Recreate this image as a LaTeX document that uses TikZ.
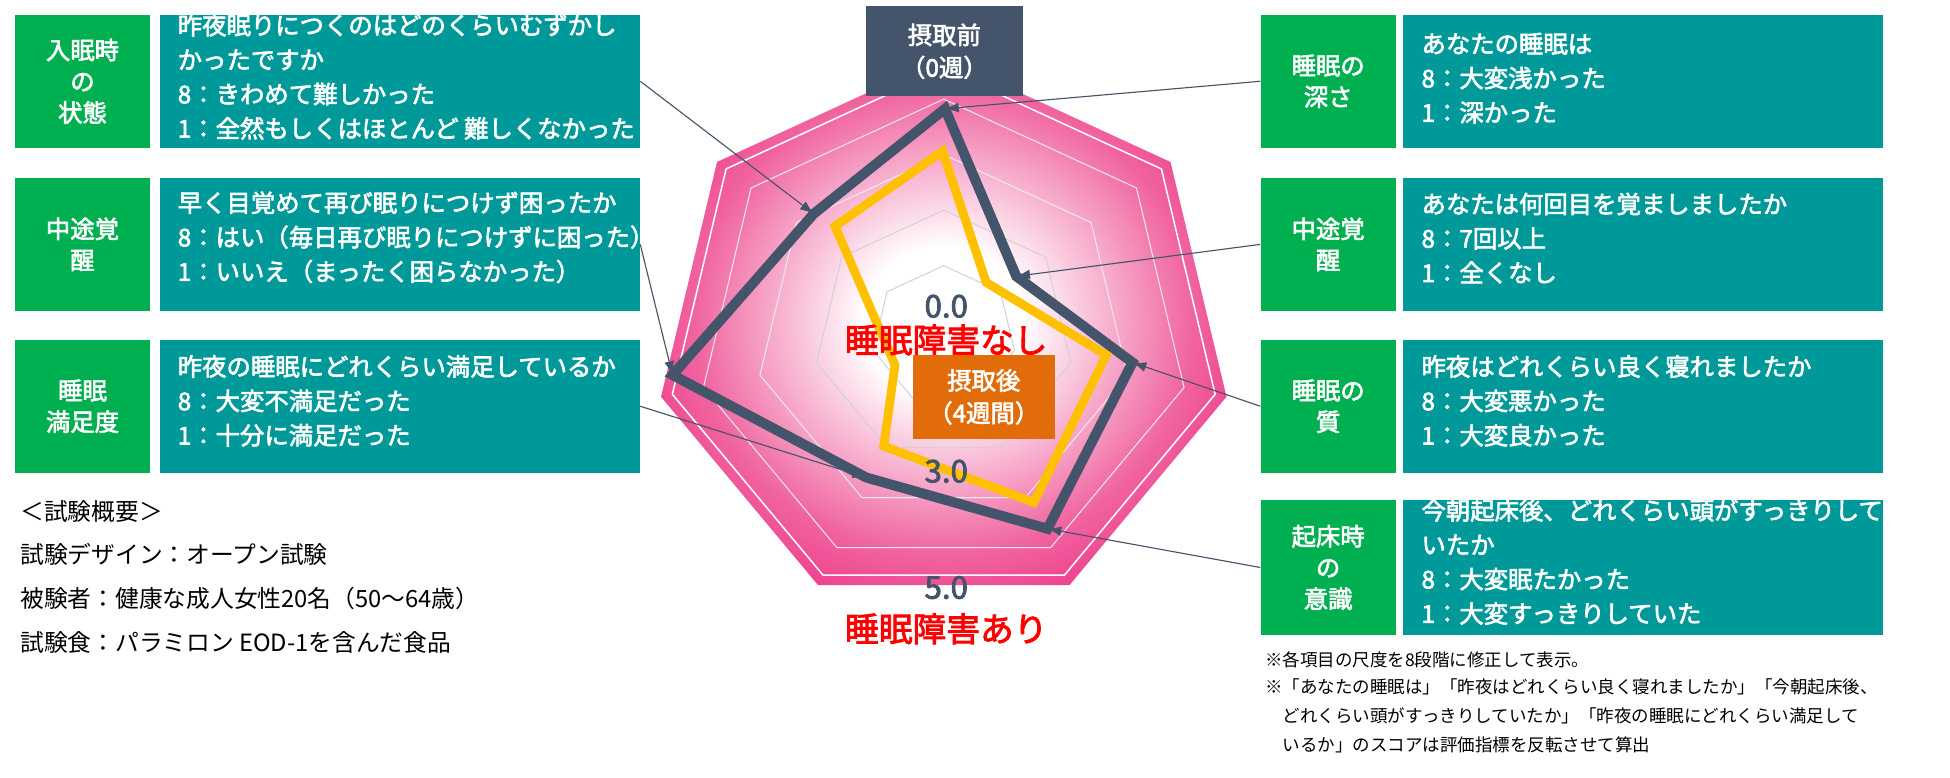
\documentclass[tikz,border=0pt]{standalone}
\usepackage{fontspec}
\setmainfont{Noto Sans CJK JP}[AutoFakeBold=2.5]
\usetikzlibrary{arrows.meta}
\definecolor{gbox}{RGB}{0,176,80}
\definecolor{tbox}{RGB}{0,153,153}
\definecolor{slate}{RGB}{68,84,106}
\definecolor{orgbox}{RGB}{227,108,10}
\definecolor{ylw}{RGB}{255,192,0}
\definecolor{pinkO}{RGB}{236,0,110}
\definecolor{pinkM}{RGB}{240,100,160}
\definecolor{redT}{RGB}{255,0,0}
\pgfdeclareradialshading{pinkshade}{\pgfpoint{0bp}{0bp}}{color(0bp)=(white); color(7bp)=(white); color(22bp)=(pinkM); color(38bp)=(pinkO); color(50bp)=(pinkO)}
\tikzset{
 glabel/.style={fill=gbox,text=white,minimum width=108pt,minimum height=106pt,align=center,font=\fontsize{19.5}{25}\selectfont\bfseries,inner sep=0pt},
 tpanel/.style={fill=tbox,minimum width=384pt,minimum height=106pt,inner sep=0pt},
 ttext/.style={anchor=north west,text=white,align=left,font=\fontsize{19.5}{27.5}\selectfont\bfseries,inner sep=0pt},
 conn/.style={draw=slate,line width=0.9pt,-{Latex[length=11pt,width=8pt]}},
 plain/.style={anchor=north west,align=left,inner sep=0pt,text=black},
}
\begin{document}
\begin{tikzpicture}[x=1pt,y=-1pt]
\useasboundingbox[fill=white] (0,0) rectangle (1560,621.6);
% heptagon
\def\sc{1}
\shade[shading=pinkshade] plot[samples at={0,...,6}] ({755+232*\sc*cos(90-\x*360/7)},{268-222*\sc*sin(90-\x*360/7)}) -- cycle;
\def\sc{0.96}
\draw[white,line width=1.2pt] plot[samples at={0,...,6}] ({755+232*\sc*cos(90-\x*360/7)},{268-222*\sc*sin(90-\x*360/7)}) -- cycle;
\foreach \sc/\cl in {0.25/gray!35,0.45/gray!35,0.65/white!85!gray,0.85/white!85!gray}{
 \draw[\cl,line width=0.8pt] plot[samples at={0,...,6}] ({755+232*\sc*cos(90-\x*360/7)},{268-222*\sc*sin(90-\x*360/7)}) -- cycle;}
% data
\coordinate (g0) at (756,87); \coordinate (g1) at (813,221); \coordinate (g2) at (906,290);
\coordinate (g3) at (838,423); \coordinate (g4) at (693,382); \coordinate (g5) at (538,300); \coordinate (g6) at (651,171);
\draw[slate,line width=8pt,line join=miter] (g0)--(g1)--(g2)--(g3)--(g4)--(g5)--(g6)--cycle;
\draw[ylw,line width=7pt,line join=miter] (754,121)--(789,226)--(885,284)--(827,402)--(707,357)--(716,292)--(668,181)--cycle;
% value labels
\node[text=slate,font=\fontsize{25}{25}\selectfont\bfseries] (v0) at (757,245) {0.0};
\node[text=slate,font=\fontsize{25}{25}\selectfont\bfseries] (v3) at (757,377) {3.0};
\node[text=slate,font=\fontsize{25}{25}\selectfont\bfseries] (v5) at (757,470) {5.0};
\node[text=redT,font=\fontsize{27}{27}\selectfont\bfseries] (none) at (757,272) {睡眠障害なし};
\node[text=redT,font=\fontsize{27}{27}\selectfont\bfseries] (ari) at (757,503) {睡眠障害あり};
\node[fill=slate,text=white,minimum width=125pt,minimum height=72pt,align=center,font=\fontsize{19.5}{26}\selectfont\bfseries] (pre) at (755.5,41) {摂取前\\（0週）};
\node[fill=orgbox,text=white,minimum width=114pt,minimum height=67pt,align=center,font=\fontsize{19.5}{26}\selectfont\bfseries] (post) at (787,317.5) {摂取後\\（4週間）};
% left boxes
\node[glabel] (L1g) at (66,65) {入眠時\\の\\状態};
\node[glabel] (L2g) at (66,195.5) {中途覚\\醒};
\node[glabel] (L3g) at (66,325) {睡眠\\満足度};
\node[tpanel] (L1) at (320,65) {};
\node[tpanel] (L2) at (320,195.5) {};
\node[tpanel] (L3) at (320,325) {};
\begin{scope}\clip (L1.north west) rectangle (L1.south east);
\node[ttext] (L1t) at (142,11) {昨夜眠りにつくのはどのくらいむずかし\\かったですか\\8：きわめて難しかった\\1：全然もしくはほとんど 難しくなかった};\end{scope}
\begin{scope}\clip (L2.north west) rectangle (L2.south east);
\node[ttext] (L2t) at (142,153) {早く目覚めて再び眠りにつけず困ったか\\8：はい（毎日再び眠りにつけずに困った）\\1：いいえ（まったく困らなかった）};\end{scope}
\begin{scope}\clip (L3.north west) rectangle (L3.south east);
\node[ttext] (L3t) at (142,284) {昨夜の睡眠にどれくらい満足しているか\\8：大変不満足だった\\1：十分に満足だった};\end{scope}
% right boxes
\node[glabel] (R1g) at (1062.5,65) {睡眠の\\深さ};
\node[glabel] (R2g) at (1062.5,195.5) {中途覚\\醒};
\node[glabel] (R3g) at (1062.5,325) {睡眠の\\質};
\node[glabel,minimum height=108pt] (R4g) at (1062.5,454) {起床時\\の\\意識};
\node[tpanel] (R1) at (1314.5,65) {};
\node[tpanel] (R2) at (1314.5,195.5) {};
\node[tpanel] (R3) at (1314.5,325) {};
\node[tpanel,minimum height=108pt] (R4) at (1314.5,454) {};
\begin{scope}\clip (R1.north west) rectangle (R1.south east);
\node[ttext] (R1t) at (1137,26) {あなたの睡眠は\\ 8：大変浅かった\\ 1：深かった};\end{scope}
\begin{scope}\clip (R2.north west) rectangle (R2.south east);
\node[ttext] (R2t) at (1137,154) {あなたは何回目を覚ましましたか\\ 8：7回以上\\ 1：全くなし};\end{scope}
\begin{scope}\clip (R3.north west) rectangle (R3.south east);
\node[ttext] (R3t) at (1137,284) {昨夜はどれくらい良く寝れましたか\\8：大変悪かった\\1：大変良かった};\end{scope}
\begin{scope}\clip (R4.north west) rectangle (R4.south east);
\node[ttext] (R4t) at (1137,399) {今朝起床後、どれくらい頭がすっきりして\\いたか\\8：大変眠たかった\\1：大変すっきりしていた};\end{scope}
% connectors
\draw[conn] (L1.east) -- (g6);
\draw[conn] (L2.east) -- (g5);
\draw[conn] (L3.east) -- (g4);
\draw[conn] (R1g.west) -- (g0);
\draw[conn] (R2g.west) -- (g1);
\draw[conn] (R3g.west) -- (g2);
\draw[conn] (R4g.west) -- (g3);
% summary
\node[plain,font=\fontsize{19}{35}\selectfont] (sum) at (16,400) {＜試験概要＞\\試験デザイン：オープン試験\\被験者：健康な成人女性20名（50～64歳）\\試験食：パラミロン EOD-1を含んだ食品};
\node[plain,font=\fontsize{14}{23}\selectfont] (note1) at (1012,521) {※各項目の尺度を8段階に修正して表示。};
\node[plain,font=\fontsize{14}{23}\selectfont] (note2) at (1012,543) {※「あなたの睡眠は」「昨夜はどれくらい良く寝れましたか」「今朝起床後、\\\hspace*{14pt}どれくらい頭がすっきりしていたか」「昨夜の睡眠にどれくらい満足して\\\hspace*{14pt}いるか」のスコアは評価指標を反転させて算出};
\end{tikzpicture}
\end{document}
